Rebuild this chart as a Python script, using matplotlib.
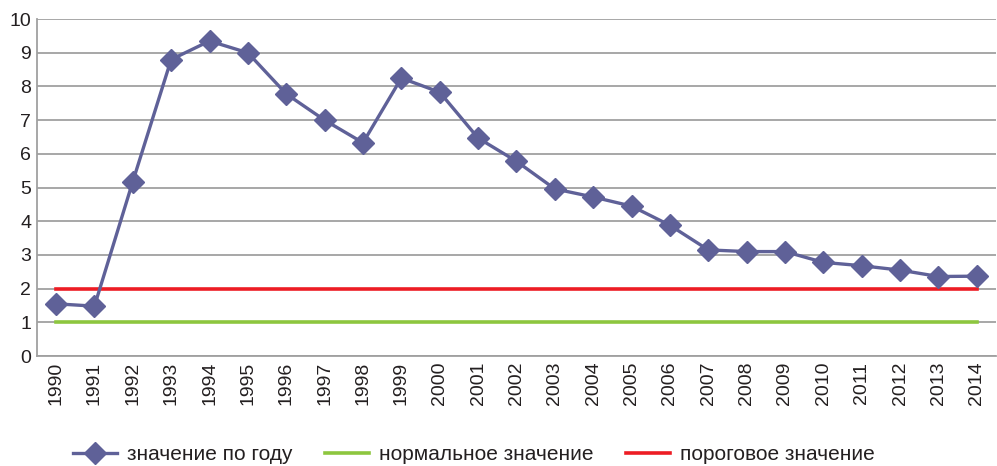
import numpy as np
import matplotlib.pyplot as plt
from matplotlib.lines import Line2D

plt.rcParams['font.family'] = ['Liberation Sans', 'DejaVu Sans']

years = [str(y) for y in range(1990, 2015)]
values = [1.55, 1.48, 5.18, 8.8, 9.35, 9.0, 7.78, 7.0, 6.33, 8.25, 7.83, 6.47, 5.78,
          4.96, 4.72, 4.45, 3.88, 3.15, 3.1, 3.1, 2.78, 2.68, 2.55, 2.36, 2.37]
normal = [1] * len(years)
threshold = [2] * len(years)

fig = plt.figure(figsize=(9.97, 4.66), dpi=100)
ax = fig.add_axes([0.037, 0.236, 0.962, 0.723])

x = np.arange(len(years))
ax.plot(x, normal, color='#8dc63f', lw=2.6, zorder=3)
ax.plot(x, threshold, color='#ed1c24', lw=2.6, zorder=3)
ax.plot(x, values, color='#5f6198', lw=2.4, marker='D', markersize=11,
        zorder=4)

ax.set_xlim(-0.5, len(years) - 0.5)
ax.set_ylim(0, 10)
ax.set_yticks(range(0, 11))
ax.set_xticks(x)
ax.set_xticklabels(years, rotation=90)
ax.tick_params(axis='both', length=0, labelsize=14, colors='#231f20', pad=4)
ax.yaxis.grid(True, color='#a0a0a0', lw=1.3)
ax.set_axisbelow(True)
for s in ['top', 'right']:
    ax.spines[s].set_visible(False)
for s in ['left', 'bottom']:
    ax.spines[s].set_color('#a0a0a0')
    ax.spines[s].set_linewidth(1.3)

handles = [Line2D([], [], color='#5f6198', lw=2.4, marker='D', markersize=11),
           Line2D([], [], color='#8dc63f', lw=2.6),
           Line2D([], [], color='#ed1c24', lw=2.6)]
labels = ['значение по году', 'нормальное значение', 'пороговое значение']
fig.legend(handles, labels, loc='center', bbox_to_anchor=(0.475, 0.025), ncol=3,
           frameon=False, fontsize=15, handlelength=2.15, columnspacing=1.55,
           handletextpad=0.45, labelcolor='#231f20')

fig.savefig('out.png', dpi=100)
